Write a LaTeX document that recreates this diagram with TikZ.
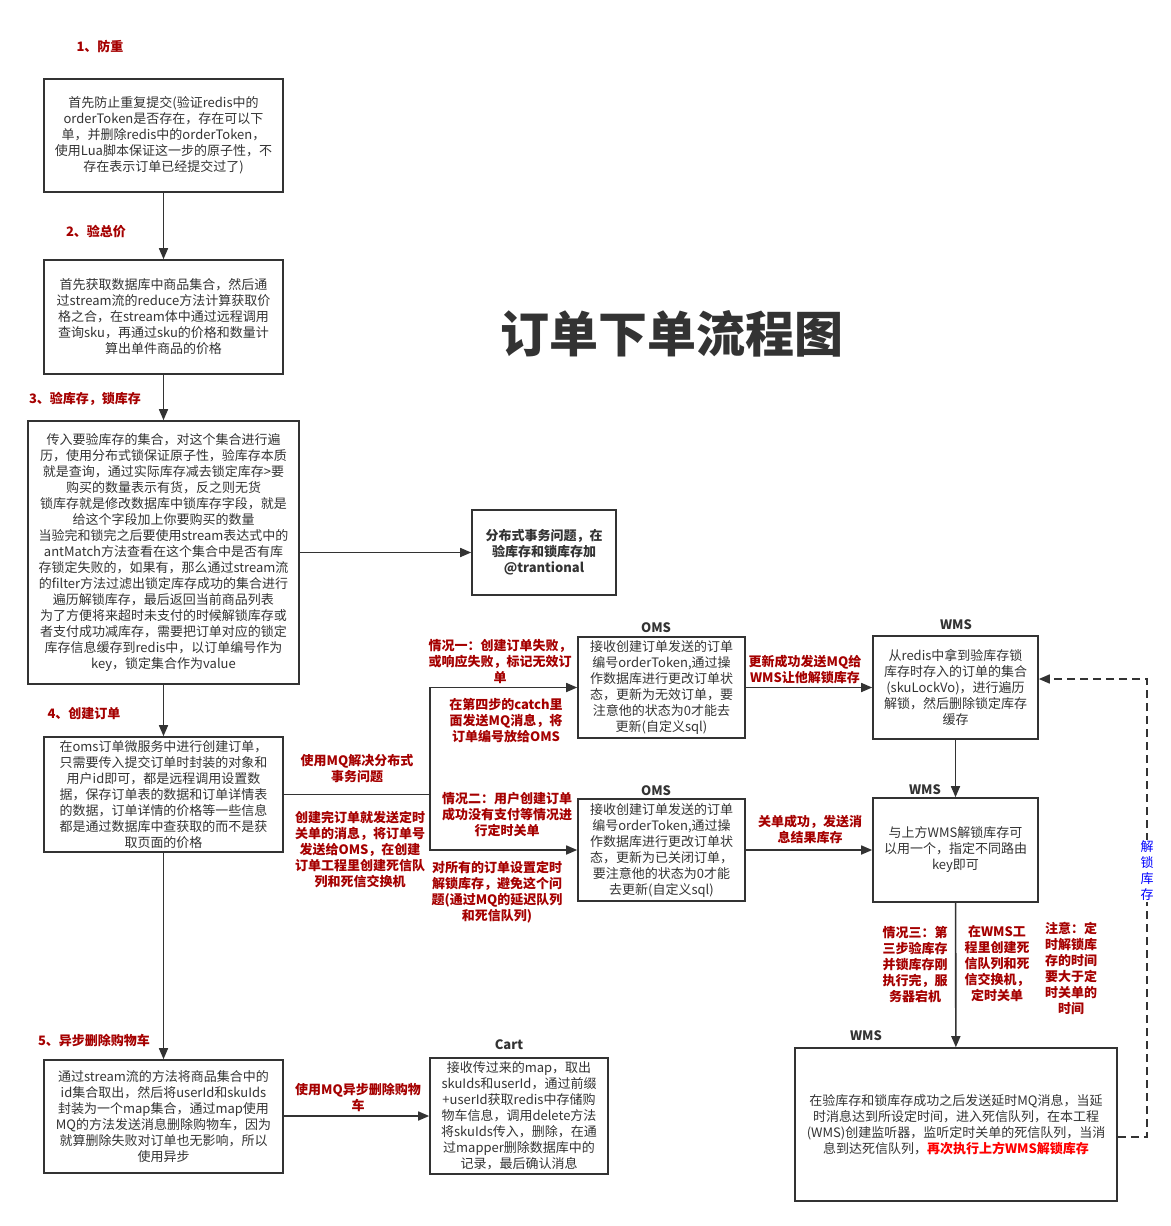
\documentclass[tikz,border=0pt]{standalone}
\usepackage{fontspec}
\setmainfont{Noto Sans CJK SC}
\usetikzlibrary{arrows.meta}
\definecolor{ink}{HTML}{333333}
\definecolor{lab}{HTML}{A50000}
\definecolor{hot}{HTML}{FF0000}
\definecolor{blu}{HTML}{0000FF}
\begin{document}
\begin{tikzpicture}[x=1pt,y=-1pt,
 box/.style={draw=ink,line width=1.6pt,inner sep=0pt,text=ink,align=center,font=\fontsize{13}{16}\selectfont},
 lbl/.style={text=lab,align=center,font=\fontsize{13}{16}\selectfont\bfseries,inner sep=0pt},
 hdr/.style={text=ink,align=center,font=\fontsize{13}{16}\selectfont\bfseries,inner sep=0pt},
 arr/.style={draw=ink,line width=1.6pt,-{Triangle[length=11pt,width=9pt]}},
 ln/.style={draw=ink,line width=1.6pt},
 dsh/.style={draw=ink,line width=1.6pt,dash pattern=on 8pt off 5pt,-{Triangle[length=11pt,width=9pt]}}]
\useasboundingbox (0,0) rectangle (1170,1226);

% title
\node[text=ink,font=\fontsize{49}{56}\selectfont\bfseries,inner sep=0pt] (title) at (672,334) {订单下单流程图};

% step labels
\node[lbl] (s1) at (100,47) {1、防重};
\node[lbl] (s2) at (96,232) {2、验总价};
\node[lbl] (s3) at (85,399) {3、验库存，锁库存};
\node[lbl] (s4) at (84,714) {4、创建订单};
\node[lbl] (s5) at (94,1041) {5、异步删除购物车};

% main boxes
\node[box,minimum width=239pt,minimum height=113pt] (b1) at (163.5,135.5)
 {首先防止重复提交(验证redis中的\\orderToken是否存在，存在可以下\\单，并删除redis中的orderToken，\\使用Lua脚本保证这一步的原子性，不\\存在表示订单已经提交过了)};
\node[box,minimum width=239pt,minimum height=114pt] (b2) at (163.5,317)
 {首先获取数据库中商品集合，然后通\\过stream流的reduce方法计算获取价\\格之合，在stream体中通过远程调用\\查询sku，再通过sku的价格和数量计\\算出单件商品的价格};
\node[box,minimum width=271pt,minimum height=263pt] (b3) at (163.5,552.5)
 {传入要验库存的集合，对这个集合进行遍\\历，使用分布式锁保证原子性，验库存本质\\就是查询，通过实际库存减去锁定库存>要\\购买的数量表示有货，反之则无货\\锁库存就是修改数据库中锁库存字段，就是\\给这个字段加上你要购买的数量\\当验完和锁完之后要使用stream表达式中的\\antMatch方法查看在这个集合中是否有库\\存锁定失败的，如果有，那么通过stream流\\的filter方法过滤出锁定库存成功的集合进行\\遍历解锁库存，最后返回当前商品列表\\为了方便将来超时未支付的时候解锁库存或\\者支付成功减库存，需要把订单对应的锁定\\库存信息缓存到redis中，以订单编号作为\\key，锁定集合作为value};
\node[box,minimum width=239pt,minimum height=115pt] (b4) at (163.5,794.5)
 {在oms订单微服务中进行创建订单，\\只需要传入提交订单时封装的对象和\\用户id即可，都是远程调用设置数\\据，保存订单表的数据和订单详情表\\的数据，订单详情的价格等一些信息\\都是通过数据库中查获取的而不是获\\取页面的价格};
\node[box,minimum width=239pt,minimum height=113pt] (b5) at (163.5,1116.5)
 {通过stream流的方法将商品集合中的\\id集合取出，然后将userId和skuIds\\封装为一个map集合，通过map使用\\MQ的方法发送消息删除购物车，因为\\就算删除失败对订单也无影响，所以\\使用异步};

\node[box,font=\fontsize{13}{16}\selectfont\bfseries,minimum width=144pt,minimum height=85pt] (dist) at (544,552.5)
 {分布式事务问题，在\\验库存和锁库存加\\@trantional};

% OMS / WMS / Cart boxes
\node[box,minimum width=167pt,minimum height=101pt] (oms1) at (661.5,687.5)
 {接收创建订单发送的订单\\编号orderToken,通过操\\作数据库进行更改订单状\\态，更新为无效订单，要\\注意他的状态为0才能去\\更新(自定义sql)};
\node[hdr] (oms1h) at (656,628) {OMS};
\node[box,minimum width=167pt,minimum height=102pt] (oms2) at (661.5,850)
 {接收创建订单发送的订单\\编号orderToken,通过操\\作数据库进行更改订单状\\态，更新为已关闭订单，\\要注意他的状态为0才能\\去更新(自定义sql)};
\node[hdr] (oms2h) at (656,791) {OMS};
\node[box,minimum width=165pt,minimum height=103pt] (wms1) at (955.5,687.5)
 {从redis中拿到验库存锁\\库存时存入的订单的集合\\(skuLockVo)，进行遍历\\解锁，然后删除锁定库存\\缓存};
\node[hdr] (wms1h) at (956,625) {WMS};
\node[box,minimum width=165pt,minimum height=104pt] (wms2) at (955.5,850)
 {与上方WMS解锁库存可\\以用一个，指定不同路由\\key即可};
\node[hdr] (wms2h) at (925,790) {WMS};
\node[box,minimum width=322pt,minimum height=153pt] (wms3) at (956,1124.5)
 {在验库存和锁库存成功之后发送延时MQ消息，当延\\时消息达到所设定时间，进入死信队列，在本工程\\(WMS)创建监听器，监听定时关单的死信队列，当消\\息到达死信队列，\textcolor{hot}{\bfseries 再次执行上方WMS解锁库存}};
\node[hdr] (wms3h) at (866,1036) {WMS};
\node[box,minimum width=178pt,minimum height=116pt] (cart) at (519,1116)
 {接收传过来的map，取出\\skuIds和userId，通过前缀\\+userId获取redis中存储购\\物车信息，调用delete方法\\将skuIds传入，删除，在通\\过mapper删除数据库中的\\记录，最后确认消息};
\node[hdr] (carth) at (509,1045) {Cart};

% connectors
\draw[arr] (b1) -- (b2);
\draw[arr] (b2) -- (b3);
\draw[arr] (b3) -- (b4);
\draw[arr] (b4) -- (b5);
\draw[arr] (b3.east |- dist.west) -- (dist.west);
\coordinate (j) at (430,794.5);
\draw[ln] (b4.east |- j) -- (j);
\draw[arr] (j) |- (oms1.west);
\draw[arr] (j) |- (oms2.west);
\draw[arr] (oms1.east) -- (wms1.west);
\draw[arr] (oms2.east) -- (wms2.west);
\draw[arr] (wms1) -- (wms2);
\draw[arr] (wms2) -- (wms3);
\draw[arr] (b5.east |- cart.west) -- (cart.west);
\coordinate (d1) at (1147,1137);
\coordinate (d2) at (1147,679);
\draw[dsh] (wms3.east |- d1) -- (d1) -- (d2) -- (wms1.east |- d2);
\node[fill=white,text=blu,align=center,font=\fontsize{13}{16}\selectfont,inner sep=1pt] (unl) at (1147,871) {解\\锁\\库\\存};

% red labels
\node[lbl] (l1) at (500,661) {情况一：创建订单失败，\\或响应失败，标记无效订\\单};
\node[lbl] (l2) at (506,721) {在第四步的catch里\\面发送MQ消息，将\\订单编号放给OMS};
\node[lbl] (l3) at (357,769) {使用MQ解决分布式\\事务问题};
\node[lbl] (l4) at (360,850) {创建完订单就发送定时\\关单的消息，将订单号\\发送给OMS，在创建\\订单工程里创建死信队\\列和死信交换机};
\node[lbl] (l5) at (507,815) {情况二：用户创建订单\\成功没有支付等情况进\\行定时关单};
\node[lbl] (l6) at (497,892) {对所有的订单设置定时\\解锁库存，避免这个问\\题(通过MQ的延迟队列\\和死信队列)};
\node[lbl] (l7) at (805,669) {更新成功发送MQ给\\WMS让他解锁库存};
\node[lbl] (l8) at (810,829) {关单成功，发送消\\息结果库存};
\node[lbl] (l9) at (915,964) {情况三：第\\三步验库存\\并锁库存刚\\执行完，服\\务器宕机};
\node[lbl] (l10) at (997,964) {在WMS工\\程里创建死\\信队列和死\\信交换机，\\定时关单};
\node[lbl] (l11) at (1071,968) {注意：定\\时解锁库\\存的时间\\要大于定\\时关单的\\时间};
\node[lbl] (l12) at (358,1097) {使用MQ异步删除购物\\车};
\end{tikzpicture}
\end{document}
